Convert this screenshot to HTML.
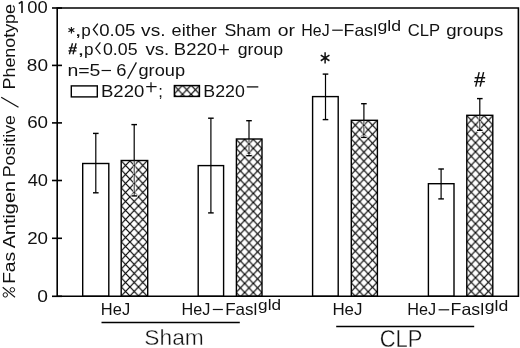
<!DOCTYPE html>
<html><head><meta charset="utf-8"><style>
html,body{margin:0;padding:0;background:#fff;}
svg{display:block;will-change:transform;}
text{font-family:"Liberation Sans", sans-serif;fill:#111;font-kerning:none;}
.thin{stroke:#fff;stroke-width:0.35px;}
</style></head><body>
<svg width="520" height="348" viewBox="0 0 520 348">
<defs><pattern id="h1" patternUnits="userSpaceOnUse" x="129.90" y="160.90" width="8.6" height="9.0"><path d="M-4.3,-4.5L12.899999999999999,13.5M12.899999999999999,-4.5L-4.3,13.5" stroke="#000" stroke-width="1.2" fill="none"/></pattern><pattern id="h3" patternUnits="userSpaceOnUse" x="244.70" y="139.40" width="8.6" height="9.0"><path d="M-4.3,-4.5L12.899999999999999,13.5M12.899999999999999,-4.5L-4.3,13.5" stroke="#000" stroke-width="1.2" fill="none"/></pattern><pattern id="h5" patternUnits="userSpaceOnUse" x="359.60" y="120.70" width="8.6" height="9.0"><path d="M-4.3,-4.5L12.899999999999999,13.5M12.899999999999999,-4.5L-4.3,13.5" stroke="#000" stroke-width="1.2" fill="none"/></pattern><pattern id="h7" patternUnits="userSpaceOnUse" x="475.50" y="115.70" width="8.6" height="9.0"><path d="M-4.3,-4.5L12.899999999999999,13.5M12.899999999999999,-4.5L-4.3,13.5" stroke="#000" stroke-width="1.2" fill="none"/></pattern><pattern id="hl" patternUnits="userSpaceOnUse" x="182.50" y="85.30" width="8.6" height="9.0"><path d="M-4.3,-4.5L12.899999999999999,13.5M12.899999999999999,-4.5L-4.3,13.5" stroke="#000" stroke-width="1.2" fill="none"/></pattern></defs>
<rect width="520" height="348" fill="#fff"/>
<line x1="95.8" y1="133.4" x2="95.8" y2="192.8" stroke="#000" stroke-width="1.2"/>
<line x1="93.0" y1="133.4" x2="98.6" y2="133.4" stroke="#000" stroke-width="1.4"/>
<line x1="93.0" y1="192.8" x2="98.6" y2="192.8" stroke="#000" stroke-width="1.4"/>
<rect x="82.7" y="163.5" width="26.10" height="132.80" fill="none" stroke="#000" stroke-width="1.4"/>
<rect x="121.2" y="160.5" width="26.50" height="135.80" fill="url(#h1)" stroke="#000" stroke-width="1.4"/>
<line x1="134.2" y1="124.6" x2="134.2" y2="160.5" stroke="#000" stroke-width="1.2"/>
<line x1="131.39999999999998" y1="124.6" x2="137.0" y2="124.6" stroke="#000" stroke-width="1.4"/>
<line x1="134.2" y1="162.0" x2="134.2" y2="195.9" stroke="#fff" stroke-width="2.4"/>
<ellipse cx="134.2" cy="195.9" rx="3.6" ry="2.0" fill="#fff"/>
<circle cx="134.2" cy="165.40" r="1.0" fill="#000"/>
<circle cx="134.2" cy="174.40" r="1.0" fill="#000"/>
<circle cx="134.2" cy="183.40" r="1.0" fill="#000"/>
<circle cx="134.2" cy="192.40" r="1.0" fill="#000"/>
<line x1="134.2" y1="160.5" x2="134.2" y2="195.9" stroke="#2a2a2a" stroke-width="1.0"/>
<line x1="131.39999999999998" y1="195.9" x2="137.0" y2="195.9" stroke="#000" stroke-width="1.4"/>
<line x1="210.9" y1="118.2" x2="210.9" y2="212.9" stroke="#000" stroke-width="1.2"/>
<line x1="208.1" y1="118.2" x2="213.70000000000002" y2="118.2" stroke="#000" stroke-width="1.4"/>
<line x1="208.1" y1="212.9" x2="213.70000000000002" y2="212.9" stroke="#000" stroke-width="1.4"/>
<rect x="198.2" y="165.6" width="25.40" height="130.70" fill="none" stroke="#000" stroke-width="1.4"/>
<rect x="236.4" y="139.0" width="25.60" height="157.30" fill="url(#h3)" stroke="#000" stroke-width="1.4"/>
<line x1="249.0" y1="120.7" x2="249.0" y2="139.0" stroke="#000" stroke-width="1.2"/>
<line x1="246.2" y1="120.7" x2="251.8" y2="120.7" stroke="#000" stroke-width="1.4"/>
<line x1="249.0" y1="140.5" x2="249.0" y2="155.7" stroke="#fff" stroke-width="2.4"/>
<ellipse cx="249.0" cy="155.7" rx="3.6" ry="2.0" fill="#fff"/>
<circle cx="249.0" cy="143.90" r="1.0" fill="#000"/>
<circle cx="249.0" cy="152.90" r="1.0" fill="#000"/>
<line x1="249.0" y1="139.0" x2="249.0" y2="155.7" stroke="#2a2a2a" stroke-width="1.0"/>
<line x1="246.2" y1="155.7" x2="251.8" y2="155.7" stroke="#000" stroke-width="1.4"/>
<line x1="325.5" y1="74.1" x2="325.5" y2="119.6" stroke="#000" stroke-width="1.2"/>
<line x1="322.7" y1="74.1" x2="328.3" y2="74.1" stroke="#000" stroke-width="1.4"/>
<line x1="322.7" y1="119.6" x2="328.3" y2="119.6" stroke="#000" stroke-width="1.4"/>
<rect x="312.6" y="96.6" width="25.60" height="199.70" fill="none" stroke="#000" stroke-width="1.4"/>
<rect x="351.3" y="120.3" width="26.10" height="176.00" fill="url(#h5)" stroke="#000" stroke-width="1.4"/>
<line x1="363.9" y1="103.7" x2="363.9" y2="120.3" stroke="#000" stroke-width="1.2"/>
<line x1="361.09999999999997" y1="103.7" x2="366.7" y2="103.7" stroke="#000" stroke-width="1.4"/>
<line x1="363.9" y1="121.8" x2="363.9" y2="137.4" stroke="#fff" stroke-width="2.4"/>
<ellipse cx="363.9" cy="137.4" rx="3.6" ry="2.0" fill="#fff"/>
<circle cx="363.9" cy="125.20" r="1.0" fill="#000"/>
<circle cx="363.9" cy="134.20" r="1.0" fill="#000"/>
<line x1="363.9" y1="120.3" x2="363.9" y2="137.4" stroke="#2a2a2a" stroke-width="1.0"/>
<line x1="361.09999999999997" y1="137.4" x2="366.7" y2="137.4" stroke="#000" stroke-width="1.4"/>
<line x1="441.1" y1="169.0" x2="441.1" y2="198.9" stroke="#000" stroke-width="1.2"/>
<line x1="438.3" y1="169.0" x2="443.90000000000003" y2="169.0" stroke="#000" stroke-width="1.4"/>
<line x1="438.3" y1="198.9" x2="443.90000000000003" y2="198.9" stroke="#000" stroke-width="1.4"/>
<rect x="428.4" y="183.7" width="25.60" height="112.60" fill="none" stroke="#000" stroke-width="1.4"/>
<rect x="466.8" y="115.3" width="26.00" height="181.00" fill="url(#h7)" stroke="#000" stroke-width="1.4"/>
<line x1="479.8" y1="98.6" x2="479.8" y2="115.3" stroke="#000" stroke-width="1.2"/>
<line x1="477.0" y1="98.6" x2="482.6" y2="98.6" stroke="#000" stroke-width="1.4"/>
<line x1="479.8" y1="116.8" x2="479.8" y2="130.3" stroke="#fff" stroke-width="2.4"/>
<ellipse cx="479.8" cy="130.3" rx="3.6" ry="2.0" fill="#fff"/>
<circle cx="479.8" cy="120.20" r="1.0" fill="#000"/>
<circle cx="479.8" cy="129.20" r="1.0" fill="#000"/>
<line x1="479.8" y1="115.3" x2="479.8" y2="130.3" stroke="#2a2a2a" stroke-width="1.0"/>
<line x1="477.0" y1="130.3" x2="482.6" y2="130.3" stroke="#000" stroke-width="1.4"/>
<path d="M57.2,8.0H518.4V296.3H57.2Z" fill="none" stroke="#000" stroke-width="1.6"/>
<line x1="52" y1="296.30" x2="62" y2="296.30" stroke="#000" stroke-width="1.6"/>
<line x1="52" y1="238.30" x2="62" y2="238.30" stroke="#000" stroke-width="1.6"/>
<line x1="52" y1="180.50" x2="62" y2="180.50" stroke="#000" stroke-width="1.6"/>
<line x1="52" y1="122.90" x2="62" y2="122.90" stroke="#000" stroke-width="1.6"/>
<line x1="52" y1="65.40" x2="62" y2="65.40" stroke="#000" stroke-width="1.6"/>
<line x1="52" y1="8.00" x2="62" y2="8.00" stroke="#000" stroke-width="1.6"/>
<text x="37.35" y="301.6" font-size="17" textLength="10.70" lengthAdjust="spacingAndGlyphs">0</text>
<text x="27.16" y="243.7" font-size="17" textLength="20.88" lengthAdjust="spacingAndGlyphs">20</text>
<text x="27.68" y="185.7" font-size="17" textLength="20.33" lengthAdjust="spacingAndGlyphs">40</text>
<text x="27.15" y="128.4" font-size="17" textLength="20.89" lengthAdjust="spacingAndGlyphs">60</text>
<text x="26.87" y="70.8" font-size="17" textLength="21.17" lengthAdjust="spacingAndGlyphs">80</text>
<path d="M22.0,1.3V13.0M18.8,3.6L22.2,1.4" stroke="#111" stroke-width="1.6" fill="none"/>
<text x="27.28" y="13.4" font-size="17" textLength="20.44" lengthAdjust="spacingAndGlyphs">00</text>
<path d="M2.7,287.3L15.0,297.2" stroke="#111" stroke-width="1.1" fill="none"/><ellipse cx="5.3" cy="294.9" rx="2.2" ry="2.2" stroke="#111" stroke-width="1.0" fill="none"/><ellipse cx="12.35" cy="289.8" rx="2.3" ry="2.2" stroke="#111" stroke-width="1.0" fill="none"/>
<text transform="translate(14.9,282.3) rotate(-90)" x="-1.57" y="0" font-size="16.5" textLength="31.97" lengthAdjust="spacingAndGlyphs">Fas</text>
<text transform="translate(14.9,248.3) rotate(-90)" x="-0.04" y="0" font-size="16.5" textLength="67.33" lengthAdjust="spacingAndGlyphs">Antigen</text>
<text transform="translate(14.9,175.9) rotate(-90)" x="-1.46" y="0" font-size="16.5" textLength="62.35" lengthAdjust="spacingAndGlyphs">Positive</text>
<path d="M1.2,97.3L18.5,107.2" stroke="#111" stroke-width="1.25" fill="none"/>
<text transform="translate(14.9,88.0) rotate(-90)" x="-1.47" y="0" font-size="16.5" textLength="85.46" lengthAdjust="spacingAndGlyphs">Phenotype</text>
<path d="M71.4,26.9V33.5M68.46,31.85L74.34,28.55M68.46,28.55L74.34,31.85" stroke="#111" stroke-width="1.1" fill="none"/>
<text x="74.80" y="35.7" font-size="16.5" textLength="6.79" lengthAdjust="spacingAndGlyphs">,</text>
<text x="81.30" y="35.7" font-size="16.5" textLength="9.52" lengthAdjust="spacingAndGlyphs">p</text>
<path d="M97.8,23.6L93.3,29.50L97.8,35.4" stroke="#111" stroke-width="1.3" fill="none"/>
<text x="99.17" y="35.7" font-size="16.5" textLength="36.21" lengthAdjust="spacingAndGlyphs">0.05</text>
<text x="141.13" y="35.7" font-size="16.5" textLength="24.41" lengthAdjust="spacingAndGlyphs">vs.</text>
<text x="171.63" y="35.7" font-size="16.5" textLength="45.17" lengthAdjust="spacingAndGlyphs">either</text>
<text x="224.49" y="35.7" font-size="16.5" textLength="46.48" lengthAdjust="spacingAndGlyphs">Sham</text>
<text x="277.69" y="35.7" font-size="16.5" textLength="17.24" lengthAdjust="spacingAndGlyphs">or</text>
<text x="301.29" y="35.7" font-size="16.5" textLength="28.39" lengthAdjust="spacingAndGlyphs">HeJ</text>
<line x1="332.2" y1="30.2" x2="342.8" y2="30.2" stroke="#111" stroke-width="1.2"/>
<text x="343.64" y="35.7" font-size="16.5" textLength="33.54" lengthAdjust="spacingAndGlyphs">Fasl</text>
<text x="377.56" y="31.300000000000004" font-size="15.5" textLength="23.58" lengthAdjust="spacingAndGlyphs">gld</text>
<text x="407.66" y="35.7" font-size="16.5" textLength="32.32" lengthAdjust="spacingAndGlyphs">CLP</text>
<text x="446.22" y="35.7" font-size="16.5" textLength="57.06" lengthAdjust="spacingAndGlyphs">groups</text>
<path d="M72.5,43.3L69.4,54.2M76.1,43.3L73.0,54.2M68.9,47.8H76.9M68.4,50.9H76.4" stroke="#111" stroke-width="1.35" fill="none"/>
<text x="77.60" y="54.5" font-size="16.5" textLength="6.79" lengthAdjust="spacingAndGlyphs">,</text>
<text x="84.10" y="54.5" font-size="16.5" textLength="9.52" lengthAdjust="spacingAndGlyphs">p</text>
<path d="M100.4,42.4L95.8,48.30L100.4,54.2" stroke="#111" stroke-width="1.3" fill="none"/>
<text x="103.01" y="54.5" font-size="16.5" textLength="34.54" lengthAdjust="spacingAndGlyphs">0.05</text>
<text x="145.44" y="54.5" font-size="16.5" textLength="23.87" lengthAdjust="spacingAndGlyphs">vs.</text>
<text x="173.88" y="54.5" font-size="16.5" textLength="43.14" lengthAdjust="spacingAndGlyphs">B220</text>
<path d="M218.7,49.5H228.9M223.8,44.3V54.7" stroke="#111" stroke-width="1.25" fill="none"/>
<text x="237.76" y="54.5" font-size="16.5" textLength="45.29" lengthAdjust="spacingAndGlyphs">group</text>
<text x="67.41" y="76.2" font-size="16.5" textLength="44.34" lengthAdjust="spacingAndGlyphs">n=5−</text>
<text x="116.26" y="76.2" font-size="16.5" textLength="10.24" lengthAdjust="spacingAndGlyphs">6</text>
<path d="M127.6,78.8L136.4,62.4" stroke="#111" stroke-width="1.3" fill="none"/>
<text x="138.43" y="76.2" font-size="16.5" textLength="46.63" lengthAdjust="spacingAndGlyphs">group</text>
<rect x="71.3" y="85.9" width="26" height="11.0" fill="none" stroke="#000" stroke-width="1.4"/>
<text x="100.98" y="96.8" font-size="16.5" textLength="43.35" lengthAdjust="spacingAndGlyphs">B220</text>
<path d="M146.2,86.7H156.6M151.0,82.3V92.3" stroke="#111" stroke-width="1.25" fill="none"/>
<text x="158.2" y="96.8" font-size="16.5">;</text>
<rect x="174.4" y="85.6" width="25.0" height="10.8" fill="url(#hl)" stroke="#000" stroke-width="1.5"/>
<text x="203.34" y="96.8" font-size="16.5" textLength="41.55" lengthAdjust="spacingAndGlyphs">B220</text>
<line x1="246.8" y1="86.9" x2="258.3" y2="86.9" stroke="#111" stroke-width="1.3"/>
<text x="100.85" y="314.7" font-size="16.5" textLength="29.27" lengthAdjust="spacingAndGlyphs">HeJ</text>
<text x="181.47" y="314.7" font-size="16.5" textLength="28.83" lengthAdjust="spacingAndGlyphs">HeJ</text>
<line x1="212.8" y1="309.5" x2="222.9" y2="309.5" stroke="#111" stroke-width="1.2"/>
<text x="225.20" y="314.7" font-size="16.5" textLength="32.13" lengthAdjust="spacingAndGlyphs">Fasl</text>
<text x="258.08" y="310.4" font-size="15.5" textLength="22.93" lengthAdjust="spacingAndGlyphs">gld</text>
<text x="332.41" y="314.8" font-size="16.5" textLength="30.04" lengthAdjust="spacingAndGlyphs">HeJ</text>
<text x="407.27" y="314.8" font-size="16.5" textLength="28.83" lengthAdjust="spacingAndGlyphs">HeJ</text>
<line x1="438.6" y1="309.8" x2="449.2" y2="309.8" stroke="#111" stroke-width="1.2"/>
<text x="450.54" y="314.8" font-size="16.5" textLength="33.54" lengthAdjust="spacingAndGlyphs">Fasl</text>
<text x="484.76" y="310.8" font-size="15.5" textLength="23.47" lengthAdjust="spacingAndGlyphs">gld</text>
<line x1="101.5" y1="322.6" x2="239.8" y2="322.6" stroke="#000" stroke-width="1.5"/>
<line x1="336.2" y1="326.5" x2="474.2" y2="326.5" stroke="#000" stroke-width="1.5"/>
<text x="144.37" y="344.6" font-size="21.5" textLength="59.43" lengthAdjust="spacingAndGlyphs" class="thin">Sham</text>
<text x="379.68" y="346.8" font-size="23" textLength="42.78" lengthAdjust="spacingAndGlyphs" class="thin">CLP</text>
<path d="M325.1,52.199999999999996V63.6M320.77,60.75L329.43,55.05M320.77,55.05L329.43,60.75" stroke="#111" stroke-width="1.5" fill="none"/>
<path d="M479.2,72.1L475.7,86.7M483.6,72.1L480.1,86.7M474.7,77.8H485.2M474.1,81.6H484.9" stroke="#111" stroke-width="1.45" fill="none"/>
</svg>
</body></html>
